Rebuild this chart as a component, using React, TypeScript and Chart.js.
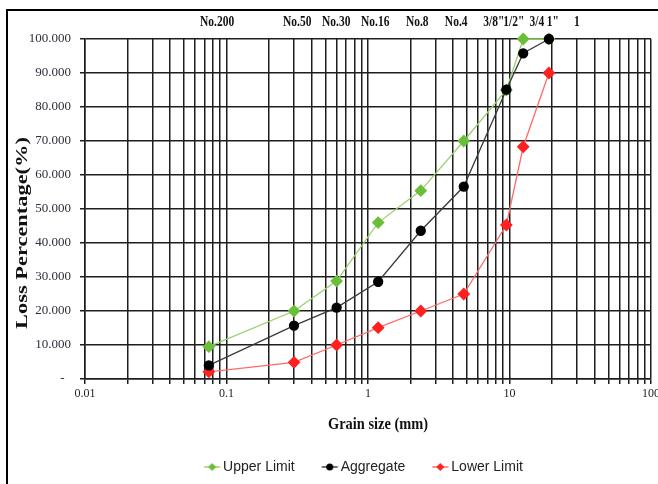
import React, { useEffect, useRef } from "react";
import { Chart, registerables } from "chart.js";

Chart.register(...registerables);

// ---- data ----
const sieveSizes = [0.075, 0.3, 0.6, 1.18, 2.36, 4.75, 9.5, 12.5, 19];
const upperLimit = [9.5, 20, 28.8, 46, 55.4, 70, 85, 100, 100];
const aggregate = [4, 15.7, 21, 28.6, 43.6, 56.6, 85.1, 95.8, 100];
const lowerLimit = [2.1, 4.9, 10, 15.1, 20, 25, 45.3, 68.3, 90];

const sieveLabels = ["No.200", "No.50", "No.30", "No.16", "No.8", "No.4", '3/8"', '1/2"', "3/4", '1"', "1"];
const sieveLabelAt = [0.0858, 0.316, 0.596, 1.124, 2.23, 4.2, 7.74, 10.72, 15.6, 20.2, 29.9];

const decadeTicks = [0.01, 0.1, 1, 10, 100];
const minorSteps = [1, 2, 3, 4, 5, 6, 7, 8, 9];
const yTicks = [0, 10, 20, 30, 40, 50, 60, 70, 80, 90, 100];

const seriesNames = ["Upper Limit", "Aggregate", "Lower Limit"];
const xTitle = "Grain size (mm)";
const yTitle = "Loss Percentage(%)";

function buildXGrid(): number[] {
  const out: number[] = [];
  for (let d = 0; d < decadeTicks.length - 1; d++) {
    for (const m of minorSteps) {
      out.push(parseFloat((decadeTicks[d] * m).toPrecision(6)));
    }
  }
  out.push(decadeTicks[decadeTicks.length - 1]);
  return out;
}

function toPoints(vals: number[]) {
  return sieveSizes.map((x, i) => ({ x, y: vals[i] }));
}

function makeIcon(line: string, fill: string, shape: "diamond" | "circle") {
  const c = document.createElement("canvas");
  c.width = 24;
  c.height = 12;
  const g = c.getContext("2d")!;
  g.strokeStyle = line;
  g.lineWidth = 1.5;
  g.beginPath();
  g.moveTo(1.5, 6);
  g.lineTo(17.5, 6);
  g.stroke();
  g.fillStyle = fill;
  const cx = 9.5;
  const cy = 6;
  g.beginPath();
  if (shape === "diamond") {
    g.moveTo(cx - 4, cy);
    g.lineTo(cx, cy - 4);
    g.lineTo(cx + 4, cy);
    g.lineTo(cx, cy + 4);
    g.closePath();
  } else {
    g.arc(cx, cy, 3.5, 0, Math.PI * 2);
  }
  g.fill();
  return c;
}

const annotatePlugin = {
  id: "annotate",
  afterDraw(chart: any) {
    const { ctx, chartArea, scales } = chart;
    // sieve labels along the top
    ctx.save();
    ctx.font = 'bold 14px "Liberation Serif"';
    ctx.fillStyle = "#111";
    ctx.textAlign = "center";
    ctx.textBaseline = "middle";
    sieveLabels.forEach((t, i) => {
      const px = scales.x.getPixelForValue(sieveLabelAt[i]);
      ctx.save();
      ctx.translate(px, chartArea.top - 17);
      ctx.scale(0.82, 1);
      ctx.fillText(t, 0, 0);
      ctx.restore();
    });
    ctx.restore();

    // x axis title
    ctx.save();
    ctx.translate((chartArea.left + chartArea.right) / 2 + 10, chartArea.bottom + 46);
    ctx.scale(0.9, 1);
    ctx.font = 'bold 16px "Liberation Serif"';
    ctx.fillStyle = "#111";
    ctx.textAlign = "center";
    ctx.textBaseline = "middle";
    ctx.fillText(xTitle, 0, 0);
    ctx.restore();

    // y axis title
    ctx.save();
    ctx.translate(23, (chartArea.top + chartArea.bottom) / 2 + 24);
    ctx.rotate(-Math.PI / 2);
    ctx.scale(1.4, 1);
    ctx.font = 'bold 16px "Liberation Serif"';
    ctx.fillStyle = "#111";
    ctx.textAlign = "center";
    ctx.textBaseline = "middle";
    ctx.fillText(yTitle, 0, 0);
    ctx.restore();
  },
};

export default function App() {
  const ref = useRef<HTMLCanvasElement | null>(null);

  useEffect(() => {
    if (!ref.current) return;
    const xGrid = buildXGrid();
    const icons = [
      makeIcon("#9bd06f", "#6abf3a", "diamond"),
      makeIcon("#444444", "#000000", "circle"),
      makeIcon("#ff6a6a", "#ff2020", "diamond"),
    ];
    const gridColor = "#1e1e1e";

    const chart = new Chart(ref.current, {
      type: "line",
      data: {
        datasets: [
          {
            label: seriesNames[0],
            data: toPoints(upperLimit),
            borderColor: "#9bd06f",
            backgroundColor: "#6abf3a",
            pointBackgroundColor: "#6abf3a",
            pointBorderColor: "#6abf3a",
            pointStyle: "rectRot",
            pointRadius: 5.5,
            borderWidth: 1.3,
            order: 1,
            clip: false,
          },
          {
            label: seriesNames[1],
            data: toPoints(aggregate),
            borderColor: "#3a3a3a",
            backgroundColor: "#000000",
            pointBackgroundColor: "#000000",
            pointBorderColor: "#000000",
            pointStyle: "circle",
            pointRadius: 4.5,
            borderWidth: 1.3,
            order: 0,
            clip: false,
          },
          {
            label: seriesNames[2],
            data: toPoints(lowerLimit),
            borderColor: "#ff6a6a",
            backgroundColor: "#ff2020",
            pointBackgroundColor: "#ff2020",
            pointBorderColor: "#ff2020",
            pointStyle: "rectRot",
            pointRadius: 5.5,
            borderWidth: 1.3,
            order: 1,
            clip: false,
          },
        ],
      },
      options: {
        animation: false,
        responsive: false,
        layout: { padding: { top: 39, right: 7, left: 0, bottom: 0 } },
        plugins: {
          tooltip: { enabled: false },
          legend: {
            position: "bottom",
            fullSize: false,
            labels: {
              usePointStyle: true,
              pointStyleWidth: 3,
              padding: 36,
              color: "#222",
              font: { family: '"Liberation Sans", Arial', size: 14 },
              sort: (a: any, b: any) => a.datasetIndex - b.datasetIndex,
              generateLabels: (ch: any) => {
                const items = (Chart.defaults.plugins.legend.labels as any).generateLabels(ch);
                return items.map((it: any) => ({ ...it, pointStyle: icons[it.datasetIndex] }));
              },
            },
          },
        },
        scales: {
          x: {
            type: "logarithmic",
            min: 0.01,
            max: 100,
            afterBuildTicks: (s: any) => {
              s.ticks = xGrid.map((v) => ({ value: v }));
            },
            afterFit: (s: any) => {
              s.height = 45;
              s.paddingLeft = 0;
              s.paddingRight = 0;
            },
            ticks: {
              autoSkip: false,
              maxRotation: 0,
              minRotation: 0,
              padding: 3,
              color: "#222",
              font: { family: '"Liberation Serif"', size: 12 },
              callback: (v: any) => (decadeTicks.includes(Number(v)) ? String(v) : ""),
            },
            grid: { color: gridColor, lineWidth: 1.5, tickLength: 5 },
            border: { color: gridColor, width: 1.5 },
          },
          y: {
            type: "linear",
            min: 0,
            max: 100,
            afterBuildTicks: (s: any) => {
              s.ticks = yTicks.map((v) => ({ value: v }));
            },
            afterFit: (s: any) => {
              s.width = 85;
            },
            ticks: {
              padding: 9,
              color: "#2a2f3a",
              font: { family: '"Liberation Serif"', size: 13 },
              callback: (v: any) => (Number(v) === 0 ? "-  " : Number(v).toFixed(3)),
            },
            grid: { color: gridColor, lineWidth: 1.5, tickLength: 5 },
            border: { color: gridColor, width: 1.5 },
          },
        },
      },
      plugins: [annotatePlugin],
    } as any);

    return () => chart.destroy();
  }, []);

  return (
    <div style={{ position: "absolute", left: 0, top: 0, width: 658, height: 484, background: "#fff", overflow: "hidden" }}>
      <div
        style={{
          position: "absolute",
          left: 6,
          top: 9,
          width: 652,
          height: 475,
          boxSizing: "border-box",
          borderTop: "2px solid #000",
          borderLeft: "2px solid #000",
        }}
      />
      <canvas
        ref={ref}
        width={658}
        height={484}
        style={{ position: "absolute", left: 0, top: 0, width: 658, height: 484 }}
      />
    </div>
  );
}
